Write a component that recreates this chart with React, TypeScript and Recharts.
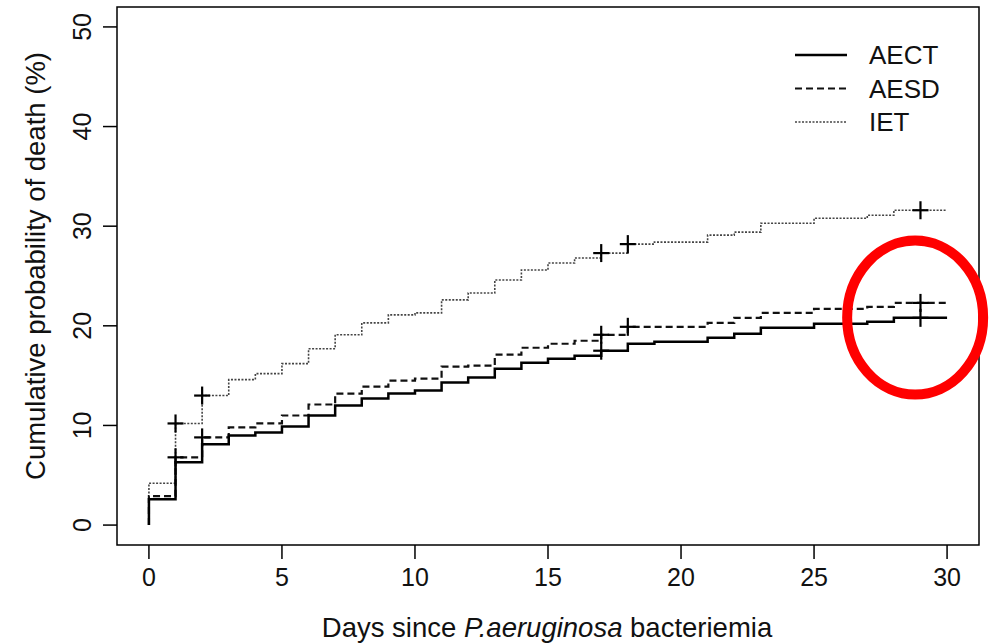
import React from "react";
import {
  ComposedChart,
  Line,
  Scatter,
  XAxis,
  YAxis,
  ReferenceArea,
  ReferenceDot,
  Customized,
} from "recharts";

// Days (start of each step interval)
const days = [
  0, 1, 2, 3, 4, 5, 6, 7, 8, 9, 10, 11, 12, 13, 14, 15, 16, 17, 18, 19, 20,
  21, 22, 23, 24, 25, 26, 27, 28, 29, 30,
];

// Cumulative probability of death (%) from each day onward
const aectValues = [
  2.6, 6.3, 8.1, 9.0, 9.3, 9.9, 11.0, 12.0, 12.7, 13.2, 13.5, 14.3, 14.8, 15.7,
  16.3, 16.7, 17.0, 17.5, 18.2, 18.4, 18.4, 18.8, 19.2, 19.8, 19.8, 20.2, 20.2,
  20.4, 20.8, 20.8, 20.8,
];
const aesdValues = [
  2.9, 6.8, 8.8, 9.8, 10.2, 11.0, 12.1, 13.2, 13.9, 14.5, 14.7, 15.9, 16.0,
  17.1, 17.8, 18.2, 18.5, 19.1, 19.9, 19.9, 19.9, 20.3, 20.8, 21.3, 21.3, 21.7,
  21.7, 21.9, 22.3, 22.3, 22.3,
];
const ietValues = [
  4.2, 10.2, 13.0, 14.6, 15.2, 16.2, 17.7, 19.1, 20.3, 21.1, 21.3, 22.6, 23.3,
  24.6, 25.6, 26.3, 26.8, 27.3, 28.2, 28.4, 28.4, 29.1, 29.4, 30.3, 30.3, 30.8,
  30.8, 31.1, 31.6, 31.6, 31.6,
];

// Censoring marks (days)
const aectCensor = [17, 29];
const aesdCensor = [1, 2, 17, 18, 29];
const ietCensor = [1, 2, 17, 18, 29];

const xTicks = [0, 5, 10, 15, 20, 25, 30];
const yTicks = [0, 10, 20, 30, 40, 50];
const seriesNames = ["AECT", "AESD", "IET"];

// highlight annotation (data coords)
const highlight = { x: 28.8, y: 20.83 };

const FONT = "'Liberation Sans', Arial, Helvetica, sans-serif";

const toSteps = (vals: number[]) => [
  { x: 0, y: 0 },
  ...days.map((d, i) => ({ x: d, y: vals[i] })),
];
const toCensor = (cs: number[], vals: number[]) =>
  cs.map((d) => ({ x: d, y: vals[days.indexOf(d)] }));

const aectData = toSteps(aectValues);
const aesdData = toSteps(aesdValues);
const ietData = toSteps(ietValues);

const Cross = (props: any) => {
  const { cx, cy } = props;
  if (cx == null || cy == null) return null;
  return (
    <g stroke="#000" strokeWidth={2.2}>
      <line x1={cx - 8} x2={cx + 8} y1={cy} y2={cy} />
      <line x1={cx} x2={cx} y1={cy - 9} y2={cy + 9} />
    </g>
  );
};

const XTick = (props: any) => {
  const { x, y, payload } = props;
  return (
    <text
      x={x}
      y={y}
      dy={25}
      textAnchor="middle"
      fontFamily={FONT}
      fontSize={25}
      fill="#111"
    >
      {payload.value}
    </text>
  );
};

const YTick = (props: any) => {
  const { x, y, payload } = props;
  return (
    <text
      transform={`translate(${x - 10},${y}) rotate(-90)`}
      textAnchor="middle"
      fontFamily={FONT}
      fontSize={25}
      fill="#111"
    >
      {payload.value}
    </text>
  );
};

const Ellipse = (props: any) => {
  const { cx, cy } = props;
  return (
    <ellipse
      cx={cx}
      cy={cy}
      rx={68}
      ry={77}
      fill="none"
      stroke="#ff0000"
      strokeWidth={10}
    />
  );
};

const Extras = () => {
  const legendStyles = [
    { dash: undefined, w: 2.5, c: "#000" },
    { dash: "7 4", w: 2.2, c: "#111" },
    { dash: "2 1.5", w: 1.6, c: "#444" },
  ];
  return (
    <g>
      <text
        x={547}
        y={637}
        textAnchor="middle"
        fontFamily={FONT}
        fontSize={27.5}
        fill="#111"
      >
        Days since <tspan fontStyle="italic">P.aeruginosa</tspan> bacteriemia
      </text>
      <text
        transform="translate(45,266) rotate(-90)"
        textAnchor="middle"
        fontFamily={FONT}
        fontSize={27.5}
        fill="#111"
      >
        Cumulative probability of death (%)
      </text>
      {seriesNames.map((n, i) => {
        const yy = 55 + i * 33.5;
        const s = legendStyles[i];
        return (
          <g key={n}>
            <line
              x1={795}
              x2={847}
              y1={yy}
              y2={yy}
              stroke={s.c}
              strokeWidth={s.w}
              strokeDasharray={s.dash}
            />
            <text
              x={869}
              y={yy + 9}
              fontFamily={FONT}
              fontSize={26}
              fill="#111"
            >
              {n}
            </text>
          </g>
        );
      })}
    </g>
  );
};

export default function App() {
  return (
    <div style={{ position: "absolute", left: 0, top: 0, background: "#fff" }}>
      <ComposedChart
        width={997}
        height={644}
        margin={{ top: 7, right: 18, left: 0, bottom: 0 }}
      >
        <XAxis
          type="number"
          dataKey="x"
          domain={[-1.2, 31.2]}
          ticks={xTicks}
          allowDataOverflow
          height={99}
          axisLine={false}
          tickLine={{ stroke: "#000", strokeWidth: 1.5 }}
          tickSize={14}
          tickMargin={2}
          tick={<XTick />}
          interval={0}
        />
        <YAxis
          type="number"
          dataKey="y"
          domain={[-2, 52]}
          ticks={yTicks}
          allowDataOverflow
          width={117}
          axisLine={false}
          tickLine={{ stroke: "#000", strokeWidth: 1.5 }}
          tickSize={14}
          tickMargin={2}
          tick={<YTick />}
          interval={0}
        />
        <ReferenceArea
          x1={-1.2}
          x2={31.2}
          y1={-2}
          y2={52}
          fill="none"
          fillOpacity={0}
          stroke="#000"
          strokeWidth={1.5}
          ifOverflow="visible"
        />
        <Line
          data={ietData}
          dataKey="y"
          type="stepAfter"
          stroke="#444"
          strokeWidth={1.6}
          strokeDasharray="2 1.5"
          dot={false}
          isAnimationActive={false}
        />
        <Line
          data={aesdData}
          dataKey="y"
          type="stepAfter"
          stroke="#111"
          strokeWidth={2.2}
          strokeDasharray="7 4"
          dot={false}
          isAnimationActive={false}
        />
        <Line
          data={aectData}
          dataKey="y"
          type="stepAfter"
          stroke="#000"
          strokeWidth={2.5}
          dot={false}
          isAnimationActive={false}
        />
        <Scatter
          data={toCensor(ietCensor, ietValues)}
          dataKey="y"
          shape={<Cross />}
          isAnimationActive={false}
        />
        <Scatter
          data={toCensor(aesdCensor, aesdValues)}
          dataKey="y"
          shape={<Cross />}
          isAnimationActive={false}
        />
        <Scatter
          data={toCensor(aectCensor, aectValues)}
          dataKey="y"
          shape={<Cross />}
          isAnimationActive={false}
        />
        <ReferenceDot
          x={highlight.x}
          y={highlight.y}
          shape={<Ellipse />}
          ifOverflow="visible"
        />
        <Customized component={<Extras />} />
      </ComposedChart>
    </div>
  );
}
